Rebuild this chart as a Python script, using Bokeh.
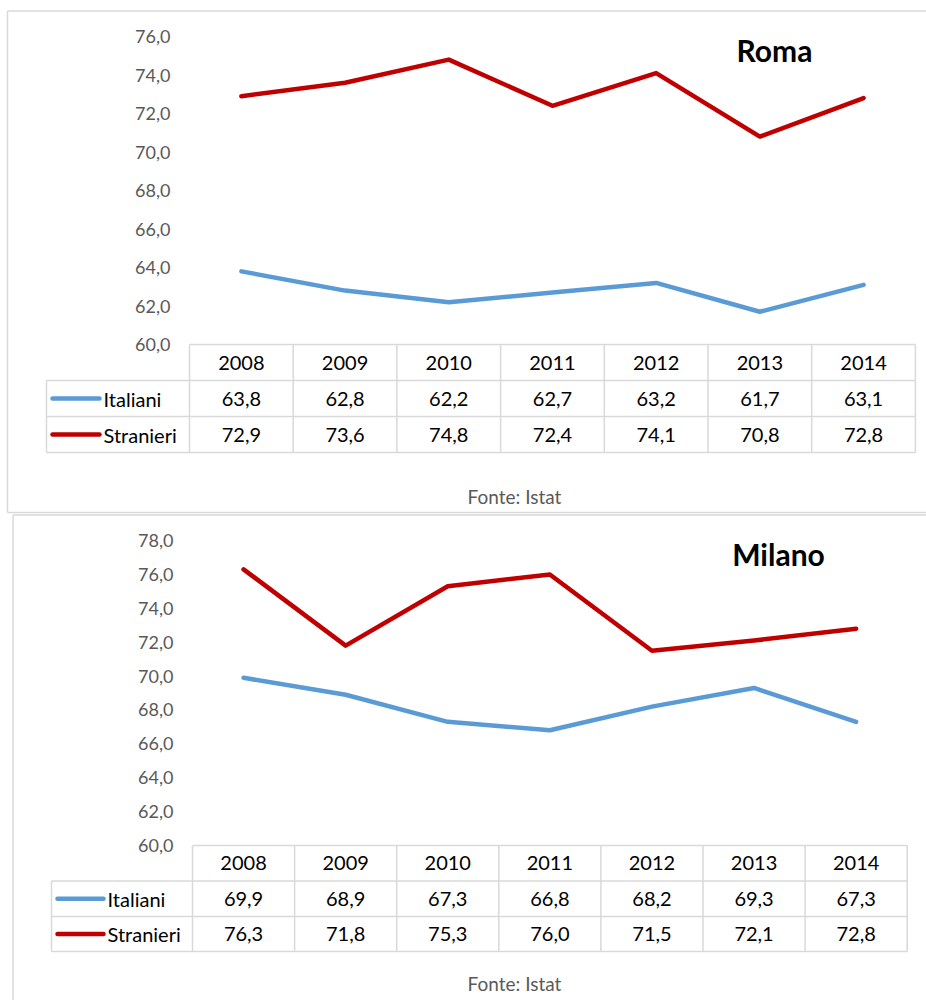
from bokeh.plotting import figure
from bokeh.models import Range1d
from bokeh.embed import file_html
from bokeh.resources import INLINE
from bokeh.core.properties import value

# ---------------- data ----------------
years = ["2008", "2009", "2010", "2011", "2012", "2013", "2014"]
series_names = ["Italiani", "Stranieri"]
series_colors = ["#5B9BD5", "#C00000"]

roma_italiani = [63.8, 62.8, 62.2, 62.7, 63.2, 61.7, 63.1]
roma_stranieri = [72.9, 73.6, 74.8, 72.4, 74.1, 70.8, 72.8]
milano_italiani = [69.9, 68.9, 67.3, 66.8, 68.2, 69.3, 67.3]
milano_stranieri = [76.3, 71.8, 75.3, 76.0, 71.5, 72.1, 72.8]

roma_ticks = [60, 62, 64, 66, 68, 70, 72, 74, 76]
milano_ticks = [60, 62, 64, 66, 68, 70, 72, 74, 76, 78]

titles = ["Roma", "Milano"]
source_note = "Fonte: Istat"


def fmt(v):
    return f"{v:.1f}".replace(".", ",")


# ---------------- layout (page pixels) ----------------
W, H = 926, 1000
PX0, PX1 = 0, W
PY0, PY1 = 0, H
FONT = value("Lato")
GRID = "#D9D9D9"
LABEL_GREY = "#595959"

panels = [
    dict(series=[roma_italiani, roma_stranieri], ticks=roma_ticks, title=titles[0],
         y_base=344.0, ppu=19.25, col_left=189.0, col_w=103.7,
         rows=[344.0, 380.0, 416.0, 452.0], leg_left=46.0,
         sample=(52.0, 99.0), label_x=103.0, tick_x=170.0,
         title_xy=(774.0, 49.0), note_xy=(514.0, 496.0)),
    dict(series=[milano_italiani, milano_stranieri], ticks=milano_ticks, title=titles[1],
         y_base=845.0, ppu=16.94, col_left=192.0, col_w=102.1,
         rows=[845.0, 880.5, 916.0, 951.0], leg_left=51.0,
         sample=(57.0, 103.0), label_x=107.0, tick_x=173.0,
         title_xy=(778.0, 553.0), note_xy=(514.0, 983.0)),
]

p = figure(width=W, height=H, output_backend="svg", toolbar_location=None,
           x_range=Range1d(PX0, PX1), y_range=Range1d(PY1, PY0),
           x_axis_location=None, y_axis_location=None,
           min_border=0, min_border_left=0, min_border_right=0,
           min_border_top=0, min_border_bottom=0)
p.outline_line_color = None
p.grid.visible = False
p.background_fill_color = "white"
p.border_fill_color = "white"

# chart frames
p.segment(x0=[7.0, 7.0, 7.0], y0=[10.5, 10.5, 512.0], x1=[7.0, 940, 940], y1=[512.0, 10.5, 512.0],
          line_color=GRID, line_width=1.5)
p.segment(x0=[12.5, 12.5], y0=[514.5, 514.5], x1=[12.5, 940], y1=[1010, 514.5],
          line_color=GRID, line_width=1.5)

for k, pan in enumerate(panels):
    xr_name, yr_name = f"yr{k}", f"val{k}"
    base = pan["ticks"][0]
    cl, cw = pan["col_left"], pan["col_w"]
    p.extra_x_ranges[xr_name] = Range1d((PX0 - cl) / cw - 0.5, (PX1 - cl) / cw - 0.5)
    p.extra_y_ranges[yr_name] = Range1d(base - (PY1 - pan["y_base"]) / pan["ppu"],
                                        base + (pan["y_base"] - PY0) / pan["ppu"])
    idx = list(range(len(years)))
    n = len(years)

    # y tick labels
    p.text(x=[pan["tick_x"]] * len(pan["ticks"]), y=pan["ticks"],
           text=[fmt(t) for t in pan["ticks"]], y_range_name=yr_name,
           text_font=FONT, text_font_size="18px", text_color=LABEL_GREY,
           text_align="right", text_baseline="middle")

    # data table borders
    r = pan["rows"]
    right = cl + cw * n
    p.segment(x0=[cl] + [pan["leg_left"]] * 3, y0=r, x1=[right] * 4, y1=r,
              line_color=GRID, line_width=1.5)
    bounds = [i - 0.5 for i in range(n + 1)]
    p.segment(x0=bounds, y0=[r[0]] * (n + 1), x1=bounds, y1=[r[3]] * (n + 1),
              x_range_name=xr_name, line_color=GRID, line_width=1.5)
    p.segment(x0=[pan["leg_left"]], y0=[r[1]], x1=[pan["leg_left"]], y1=[r[3]],
              line_color=GRID, line_width=1.5)

    # header row (years)
    hc = (r[0] + r[1]) / 2
    p.text(x=idx, y=[hc] * n, text=years, x_range_name=xr_name,
           text_font=FONT, text_font_size="20px", text_color="black",
           text_align="center", text_baseline="middle")

    for s, (vals, name, col) in enumerate(zip(pan["series"], series_names, series_colors)):
        # line
        p.line(x=idx, y=vals, x_range_name=xr_name, y_range_name=yr_name,
               line_color=col, line_width=4.5, line_join="round", line_cap="round")
        rc = (r[s + 1] + r[s + 2]) / 2
        # legend sample + name
        p.segment(x0=[pan["sample"][0]], y0=[rc], x1=[pan["sample"][1]], y1=[rc],
                  line_color=col, line_width=4.5, line_cap="round")
        p.text(x=[pan["label_x"]], y=[rc], text=[name], text_font=FONT,
               text_font_size="20px", text_color="black",
               text_align="left", text_baseline="middle")
        # values
        p.text(x=idx, y=[rc] * n, text=[fmt(v) for v in vals], x_range_name=xr_name,
               text_font=FONT, text_font_size="20px", text_color="black",
               text_align="center", text_baseline="middle")

    # title
    p.text(x=[pan["title_xy"][0]], y=[pan["title_xy"][1]], text=[pan["title"]],
           text_font=FONT, text_font_size="30px", text_font_style="bold",
           text_color="black", text_align="center", text_baseline="middle")
    # source note
    p.text(x=[pan["note_xy"][0]], y=[pan["note_xy"][1]], text=[source_note],
           text_font=FONT, text_font_size="19px", text_color=LABEL_GREY,
           text_align="center", text_baseline="middle")

open("out.html", "w").write(file_html(p, INLINE))
